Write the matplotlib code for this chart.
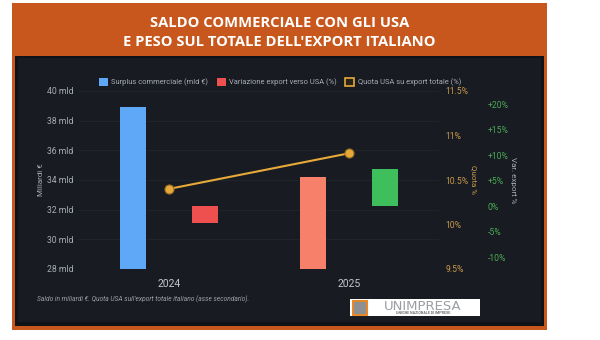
import matplotlib
matplotlib.use("Agg")
import matplotlib.pyplot as plt
import matplotlib.patches as mpatches
from matplotlib.ticker import FuncFormatter

plt.rcParams["font.family"] = ["Roboto", "DejaVu Sans"]

# data
years = ["2024", "2025"]
surplus = [38.9, 34.2]            # mld €
surplus_colors = ["#5ea8f7", "#f7806b"]
var_export = [-3.3, 7.2]          # %
var_colors = ["#ee4f4f", "#3fbf5b"]
quota = [10.4, 10.8]              # %

left_ticks = [28, 30, 32, 34, 36, 38, 40]
quota_ticks = [9.5, 10, 10.5, 11, 11.5]
var_ticks = [-10, -5, 0, 5, 10, 15, 20]

ORANGE = "#c7571c"
PANEL_OUT = "#0f1216"
PANEL = "#181b21"
GRID = "#21252c"
TXT = "#a9adb5"
GOLD = "#e6a93a"
GOLD_TXT = "#c99a4c"
GREEN_TXT = "#4bab57"

W, H = 600, 340
fig = plt.figure(figsize=(6, 3.4), dpi=100)
fig.patch.set_facecolor("white")


def px_rect(x0, y0, x1, y1, color, z=-10, **kw):
    fig.patches.append(mpatches.Rectangle(
        (x0 / W, 1 - y1 / H), (x1 - x0) / W, (y1 - y0) / H,
        transform=fig.transFigure, facecolor=color, zorder=z, **kw))


# frame
px_rect(12, 3, 547, 330, ORANGE, edgecolor="none")
px_rect(15, 56, 544, 326, PANEL_OUT, edgecolor="none")
px_rect(18, 58, 541, 322, PANEL, edgecolor="none")

fig.text(279.5 / W, 1 - 23 / H, "SALDO COMMERCIALE CON GLI USA", ha="center", va="center",
         color="white", fontsize=10.6, fontweight="bold", family="Open Sans")
fig.text(279.5 / W, 1 - 41.5 / H, "E PESO SUL TOTALE DELL'EXPORT ITALIANO", ha="center", va="center",
         color="white", fontsize=10.6, fontweight="bold", family="Open Sans")

# axes: plot area 79..439 x, 91..269 y (pixels)
ax = fig.add_axes([79 / W, 1 - 269 / H, 360 / W, 178 / H])
ax3 = ax.twinx()
ax2 = ax.twinx()
for z, a in enumerate((ax, ax3, ax2)):
    a.set_zorder(z + 1)
    a.patch.set_visible(False)

x = list(range(len(years)))
bw = 0.14
off = 0.2

ax.set_ylim(28, 40)
ax.bar([i - off for i in x], [v - 28 for v in surplus], bottom=28, width=bw,
       color=surplus_colors, zorder=3)
ax3.set_ylim(-12.35, 22.55)
ax3.bar([i + off for i in x], var_export, width=bw, color=var_colors, zorder=3)
ax2.set_ylim(9.5, 11.5)
ax2.plot(x, quota, color=GOLD, lw=1.5, marker="o", ms=6.5,
         markerfacecolor=GOLD, markeredgecolor="#9a6f20", markeredgewidth=0.8, zorder=5)

ax.set_xlim(-0.5, 1.5)
ax.set_xticks(x)
ax.set_xticklabels(years)
ax.tick_params(axis="x", length=0, pad=7, labelsize=7.5, labelcolor="#c3c7ce")

ax.set_yticks(left_ticks)
ax.yaxis.set_major_formatter(FuncFormatter(lambda v, p: f"{v:.0f} mld"))
ax.tick_params(axis="y", length=0, pad=4, labelsize=6.2, labelcolor=TXT)
ax.grid(axis="y", color=GRID, lw=0.6, zorder=0)
ax.set_ylabel("Miliardi €", fontsize=5.8, color=TXT)
ax.yaxis.set_label_coords(-0.097, 0.5)

ax2.set_yticks(quota_ticks)
ax2.yaxis.set_major_formatter(FuncFormatter(lambda v, p: f"{v:g}%"))
ax2.tick_params(axis="y", length=0, pad=4.5, labelsize=6.2, labelcolor=GOLD_TXT)
ax2.set_ylabel("Quota %", fontsize=5.8, color=GOLD_TXT, rotation=270, va="center")
ax2.yaxis.set_label_coords(1.097, 0.5)

ax3.set_yticks(var_ticks)
ax3.yaxis.set_major_formatter(FuncFormatter(lambda v, p: f"{v:+.0f}%" if v != 0 else "0%"))
ax3.tick_params(axis="y", length=0, pad=35, labelsize=6.2, labelcolor=GREEN_TXT)
ax3.set_ylabel("Var. export %", fontsize=5.8, color=TXT, rotation=270, va="center")
ax3.yaxis.set_label_coords(1.206, 0.5)

for a in (ax, ax2, ax3):
    for s in a.spines.values():
        s.set_visible(False)

# legend
handles = [
    mpatches.Patch(facecolor=surplus_colors[0], edgecolor="none", label="Surplus commerciale (mld €)"),
    mpatches.Patch(facecolor=var_colors[0], edgecolor="none", label="Variazione export verso USA (%)"),
    mpatches.Patch(facecolor="#2a2418", edgecolor=GOLD, lw=1.2, label="Quota USA su export totale (%)"),
]
fig.legend(handles=handles, loc="center", bbox_to_anchor=(280 / W, 1 - 82 / H), ncol=3,
           frameon=False, fontsize=5.4, labelcolor=TXT, handlelength=1.2, handleheight=1.2,
           handletextpad=0.5, columnspacing=1.1)

# footnote
fig.text(37 / W, 1 - 299 / H,
         "Saldo in miliardi €. Quota USA sull'export totale italiano (asse secondario).",
         ha="left", va="center", fontsize=4.8, style="italic", color="#9da1a8")

# logo
px_rect(350, 299, 480, 316, "white", z=5, edgecolor="none")
px_rect(353, 300.5, 367, 314.5, "#8c8f93", z=6, edgecolor="#e58a2a", lw=1.5)
fig.text(423 / W, 1 - 306 / H, "UNIMPRESA", ha="center", va="center", fontsize=9.5,
         color="#9a9da2", family="DejaVu Sans", zorder=7)
fig.text(423 / W, 1 - 313 / H, "UNIONE NAZIONALE DI IMPRESE", ha="center", va="center",
         fontsize=2.6, color="#6d7075", fontweight="bold", zorder=7)

fig.savefig("out.png", dpi=100, facecolor="white")
